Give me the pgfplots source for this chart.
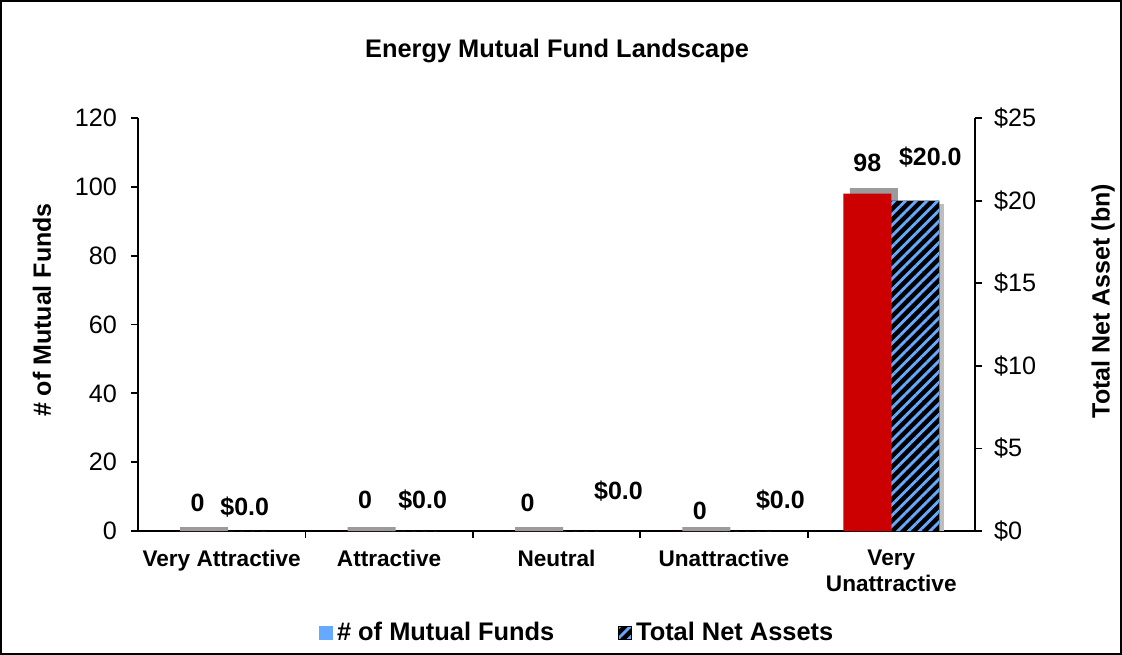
\documentclass[border=0pt]{standalone}
\usepackage{fontspec}
\setmainfont{Liberation Sans}
\usepackage{pgfplots}
\usepackage{pgfplotstable}
\pgfplotsset{compat=1.18}
\usetikzlibrary{patterns.meta}
\definecolor{barred}{RGB}{204,0,0}
\definecolor{stripeblue}{RGB}{102,170,255}
\definecolor{shadowgray}{RGB}{155,155,155}
\definecolor{lightshadow}{RGB}{190,190,190}

% number of funds: dx, dy = label offsets (bp)
\pgfplotstableread{
x y dx dy
0 0 0 14
1 0 0 15.5
2 0 -2.5 14
3 0 0 10
4 98 0 15.5
}\fundcount
\pgfplotstableread{
x y
0 1.1
1 1.1
2 1.1
3 1.1
4 99.6
}\countshadow
\pgfplotstableread{
x y dx dy
0 0 -0.5 12
1 0 4.75 15.5
2 0 19 20
3 0 16.25 15.5
4 20 7.5 21.5
}\netassets
\pgfplotstableread{
x y
4 19.8
}\assetshadow

\pgfplotsset{
  common/.style={
    scale only axis, width=418.5bp, height=206.5bp,
    at={(69bp,62bp)}, anchor=south west,
    xmin=-0.5, xmax=4.5,
    ybar, bar width=24bp,
    tick align=outside, major tick length=3.5bp,
    /pgf/number format/assume math mode=true,
    tick label style={font=\fontsize{12.6bp}{14bp}\selectfont},
    axis line style={line width=0.9bp},
    tick style={line width=0.9bp, black},
    clip=false,
  },
  lbl/.style={
    visualization depends on={\thisrow{dx} \as \ldx},
    visualization depends on={\thisrow{dy} \as \ldy},
    every node near coord/.append style={font=\bfseries\fontsize{12.5bp}{14bp}\selectfont,
      text=black, anchor=center, xshift=\ldx bp, yshift=\ldy bp},
  },
}

\begin{document}
\begin{tikzpicture}
\useasboundingbox (0,0) rectangle (561bp,327.5bp);
\draw[black, line width=1bp] (0.5bp,0.5bp) rectangle (560.5bp,327bp);

\begin{axis}[common,
  axis y line*=left, axis x line*=bottom,
  ymin=0, ymax=120, ytick={0,20,...,120},
  yticklabel style={xshift=-3.5bp},
  xtick={0,...,4},
  xticklabels={Very Attractive, Attractive, Neutral, Unattractive, {Very\\Unattractive}},
  xticklabel style={font=\bfseries\fontsize{11.3bp}{12.8bp}\selectfont, align=center, yshift=-2.5bp},
  xtick style={draw=none},
  ylabel={\# of Mutual Funds},
  ylabel style={at={(axis description cs:-0.1147,0.535)}, anchor=center,
    font=\bfseries\fontsize{12.5bp}{14bp}\selectfont},
  title={Energy Mutual Fund Landscape},
  title style={at={(axis description cs:0.5006,1.1695)}, anchor=center, yshift=-7.5bp,
    font=\bfseries\fontsize{12.7bp}{15bp}\selectfont},
]
\addplot[fill=shadowgray, draw=none, bar shift=-8.75bp, forget plot] table[x=x,y=y]{\countshadow};
\addplot[fill=barred, draw=none, bar shift=-12bp, forget plot, lbl, nodes near coords]
  table[x=x,y=y]{\fundcount};
\draw[line width=0.9bp] (axis cs:0.5,0) -- ([yshift=-3.5bp]axis cs:0.5,0);
\draw[line width=0.9bp] (axis cs:1.5,0) -- ([yshift=-3.5bp]axis cs:1.5,0);
\draw[line width=0.9bp] (axis cs:2.5,0) -- ([yshift=-3.5bp]axis cs:2.5,0);
\draw[line width=0.9bp] (axis cs:3.5,0) -- ([yshift=-3.5bp]axis cs:3.5,0);
\end{axis}

\begin{axis}[common,
  axis y line*=right, axis x line=none,
  ymin=0, ymax=25, ytick={0,5,...,25},
  yticklabel={\$\pgfmathprintnumber{\tick}},
  yticklabel style={xshift=2.5bp},
  ylabel={Total Net Asset (bn)},
  ylabel style={at={(axis description cs:1.153,0.557)}, anchor=center,
    font=\bfseries\fontsize{12.5bp}{14bp}\selectfont},
  legend style={draw=none, fill=none, legend columns=2,
    at={(axis description cs:0.526,-0.2476)}, anchor=center,
    font=\bfseries\fontsize{12.7bp}{15bp}\selectfont,
    /tikz/every even column/.append style={column sep=30bp}},
]
\addplot[fill=lightshadow, draw=none, bar shift=14.5bp, forget plot] table[x=x,y=y]{\assetshadow};
\addplot[fill=black, draw=none, bar shift=12bp, forget plot,
  postaction={pattern={Lines[angle=45,distance=3.8bp,line width=1.4bp]}, pattern color=stripeblue},
  lbl,
  nodes near coords={\$\pgfmathprintnumber[fixed,fixed zerofill,precision=1]{\pgfplotspointmeta}}]
  table[x=x,y=y]{\netassets};
\addlegendimage{legend image code/.code={\fill[stripeblue] (0bp,-3.25bp) rectangle (6.5bp,3.25bp);}}
\addlegendentry{\# of Mutual Funds}
\addlegendimage{legend image code/.code={\fill[black] (0bp,-3.25bp) rectangle (6.5bp,3.25bp);
  \fill[pattern={Lines[angle=45,distance=3.8bp,line width=1.4bp]}, pattern color=stripeblue] (0bp,-3.25bp) rectangle (6.5bp,3.25bp);}}
\addlegendentry{Total Net Assets}
\end{axis}
\end{tikzpicture}
\end{document}
